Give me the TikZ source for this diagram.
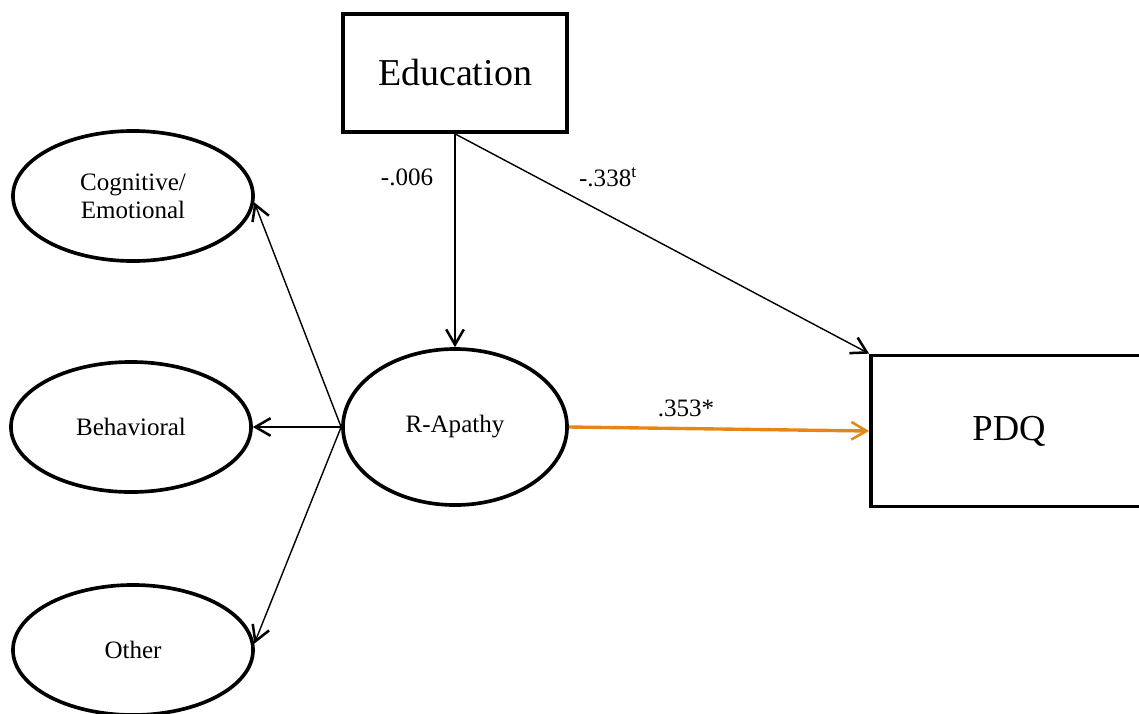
\documentclass[tikz,border=0pt]{standalone}
\usepackage{fontspec}
\setmainfont{Liberation Serif}
\newfontfamily\timesfont{Liberation Serif}
\usetikzlibrary{arrows.meta, shapes.geometric}
\definecolor{pathorange}{RGB}{230,134,22}

\begin{document}
\begin{tikzpicture}[x=0.025cm, y=-0.025cm, >={Straight Barb[length=0.38cm, width=0.44cm, line width=1.8pt]}]
          \tikzstyle{factor}=[ellipse, line width=2.6pt, draw=black, inner sep=0pt, minimum width=6cm, minimum height=3.25cm, align=center, font=\timesfont\fontsize{17.8}{20}\selectfont]
          \tikzstyle{measure}=[rectangle, line width=2.6pt, draw=black, inner sep=0pt]
          \tikzstyle{coef}=[inner sep=0pt, font=\timesfont\fontsize{17.8}{20}\selectfont]
          \tikzstyle{link}=[->, line width=1pt]

          \useasboundingbox (0,0) rectangle (1139,713);

          \node[measure, minimum width=5.6cm, minimum height=2.95cm, font=\timesfont\fontsize{27}{30}\selectfont] at (455,73) (Edu) {Education};
          \node[measure, minimum width=6.9cm, minimum height=3.775cm, font=\timesfont\fontsize{26}{30}\selectfont] at (1009,431) (PDQ) {PDQ};
          \node[factor, minimum width=5.6cm, minimum height=3.9cm] at (455,427) (RA) {R-Apathy};
          \node[factor] at (133,196) (Cog) {Cognitive/\\Emotional};
          \node[factor] at (131,427) (Beh) {Behavioral};
          \node[factor] at (133,650) (Oth) {Other};

          \node[coef] (L1) at (407,177) {-.006};
          \node[coef] (L2) at (608,177) {-.338\textsuperscript{t}};
          \node[coef] (L3) at (686,408) {.353*};

          \path (Edu) edge[link] (RA);
          \path (Edu.south) edge[link] (PDQ.north west);
          \path (RA.west) edge[link] (Cog.-3);
          \path (RA.west) edge[link] (Beh.east);
          \path (RA.west) edge[link] (Oth.3);
          \path (RA.east) edge[link, draw=pathorange, line width=2.4pt] (PDQ.west);

        \end{tikzpicture}
\end{document}
